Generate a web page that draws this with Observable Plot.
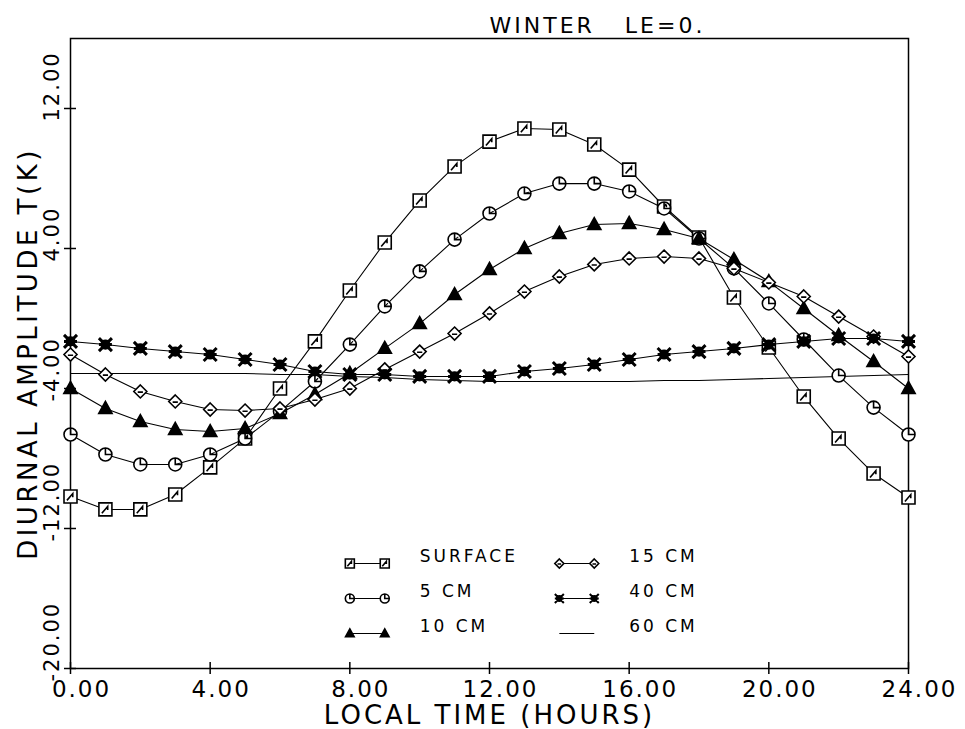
<!DOCTYPE html>
<html><head><meta charset="utf-8">
<script src="https://cdn.jsdelivr.net/npm/d3@7"></script>
<script src="https://cdn.jsdelivr.net/npm/@observablehq/plot@0.6"></script>
<style>
html,body{margin:0;padding:0;background:#fff;}
svg text{white-space:pre;}
</style></head><body><div id="chart"></div>
<script>
// ---------- data ----------
const hours = [0,1,2,3,4,5,6,7,8,9,10,11,12,13,14,15,16,17,18,19,20,21,22,23,24];
const surface = [-10.17,-10.91,-10.91,-10.06,-8.51,-6.86,-4.00,-1.31,1.60,4.34,6.74,8.69,10.11,10.86,10.80,9.94,8.51,6.40,4.63,1.20,-1.66,-4.46,-6.86,-8.86,-10.23];
const cm5 = [-6.63,-7.77,-8.34,-8.34,-7.77,-6.86,-5.31,-3.60,-1.49,0.69,2.69,4.51,6.00,7.14,7.71,7.71,7.26,6.29,4.57,2.86,0.86,-1.20,-3.26,-5.09,-6.63];
const cm10 = [-4.00,-5.14,-5.89,-6.34,-6.46,-6.29,-5.43,-4.34,-3.14,-1.71,-0.29,1.37,2.80,4.00,4.86,5.37,5.43,5.09,4.57,3.37,2.11,0.57,-0.97,-2.46,-4.00];
const cm15 = [-2.06,-3.20,-4.17,-4.74,-5.20,-5.26,-5.14,-4.63,-4.00,-2.91,-1.89,-0.86,0.29,1.54,2.40,3.09,3.43,3.54,3.43,2.86,2.06,1.26,0.11,-1.03,-2.17];
const cm40 = [-1.31,-1.49,-1.71,-1.89,-2.06,-2.34,-2.63,-3.03,-3.20,-3.20,-3.31,-3.31,-3.31,-3.03,-2.86,-2.63,-2.34,-2.06,-1.89,-1.71,-1.49,-1.31,-1.14,-1.14,-1.31];
const cm60 = [-3.14,-3.14,-3.14,-3.14,-3.14,-3.14,-3.20,-3.20,-3.31,-3.37,-3.49,-3.54,-3.60,-3.60,-3.60,-3.60,-3.60,-3.54,-3.54,-3.49,-3.43,-3.37,-3.31,-3.26,-3.20];
const seriesNames = ["SURFACE","5 CM","10 CM","15 CM","40 CM","60 CM"];
const xTicks = [0,4,8,12,16,20,24];
const yTicks = [12,4,-4,-12,-20];
const titleText = "WINTER   LE=0.";
const xLabel = "LOCAL TIME (HOURS)";
const yLabel = "DIURNAL AMPLITUDE T(K)";

// ---------- layout / style ----------
const W = 965, H = 729;
const M = {left:70, right:57, top:38, bottom:61};
const plotW = W - M.left - M.right, plotH = H - M.top - M.bottom;
const FONT = "DejaVu Sans";

const rOf = s => Math.sqrt(s/Math.PI);
const symSquare = {draw(c,s){const r=rOf(s);c.moveTo(-r,-r);c.lineTo(r,-r);c.lineTo(r,r);c.lineTo(-r,r);c.closePath();c.moveTo(-r*0.55,r*0.6);c.lineTo(r*0.35,-r*0.45);c.lineTo(r*0.35,0.1*r);}};
const symCircle = {draw(c,s){const r=rOf(s);c.moveTo(r,0);c.arc(0,0,r,0,2*Math.PI);c.moveTo(0,-r);c.lineTo(0,0);c.lineTo(r,0);}};
const symTriangle = {draw(c,s){const r=rOf(s);c.moveTo(0,-r);c.lineTo(r*0.95,r*0.7);c.lineTo(-r*0.95,r*0.7);c.closePath();}};
const symDiamond = {draw(c,s){const r=rOf(s);c.moveTo(0,-r);c.lineTo(r,0);c.lineTo(0,r);c.lineTo(-r,0);c.closePath();c.moveTo(-r*0.4,r*0.1);c.lineTo(r*0.4,r*0.1);}};
const symStar = {draw(c,s){const r=rOf(s);c.moveTo(-r,-r);c.lineTo(r,r);c.moveTo(-r,r);c.lineTo(r,-r);c.moveTo(-r,0);c.lineTo(r,0);c.moveTo(r*0.55,0);c.arc(0,0,r*0.55,0,2*Math.PI);}};

const styles = {
  "SURFACE": {symbol: symSquare, fill: "white", strokeWidth: 1.6, r: 6.5},
  "5 CM":    {symbol: symCircle, fill: "white", strokeWidth: 1.6, r: 6.5},
  "10 CM":   {symbol: symTriangle, fill: "black", strokeWidth: 1.6, r: 7},
  "15 CM":   {symbol: symDiamond, fill: "white", strokeWidth: 1.6, r: 6.5},
  "40 CM":   {symbol: symStar, fill: "black", strokeWidth: 3, r: 6.5},
  "60 CM":   null
};
const legendLayout = {rowY: [-14,-16,-18], markerX: [[8,9],[14,15]], textX: [10,16]};

// ---------- build tables ----------
const seriesValues = [surface, cm5, cm10, cm15, cm40, cm60];
const table = [];
seriesNames.forEach((name,i) => hours.forEach((h,j) => table.push({series:name, hour:h, value:seriesValues[i][j]})));
const legendRows = seriesNames.map((name,i) => ({name, col: i<3?0:1, row: i%3}));
const legendDots = [];
legendRows.forEach(d => { if (styles[d.name]) legendLayout.markerX[d.col].forEach(x => legendDots.push({...d, x})); });

const marks = [
  Plot.frame({stroke:"black", strokeWidth:1.5}),
  Plot.ruleY(yTicks, {y:d=>d, insetLeft:-6, insetRight:plotW-6, stroke:"black", strokeWidth:1.5}),
  Plot.ruleX(xTicks, {x:d=>d, insetTop:plotH-6, insetBottom:-6, stroke:"black", strokeWidth:1.5}),
  Plot.line(table, {x:"hour", y:"value", z:"series", stroke:"black", strokeWidth:1.1}),
];
seriesNames.forEach(name => {
  const st = styles[name];
  if (!st) return;
  marks.push(Plot.dot(table.filter(d=>d.series===name), {x:"hour", y:"value", r:st.r, symbol:st.symbol, fill:st.fill, stroke:"black", strokeWidth:st.strokeWidth}));
});
// legend
marks.push(Plot.link(legendRows, {x1:d=>legendLayout.markerX[d.col][0], x2:d=>legendLayout.markerX[d.col][1], y1:d=>legendLayout.rowY[d.row], y2:d=>legendLayout.rowY[d.row], stroke:"black", strokeWidth:1.2}));
seriesNames.forEach(name => {
  const st = styles[name];
  if (!st) return;
  marks.push(Plot.dot(legendDots.filter(d=>d.name===name), {x:"x", y:d=>legendLayout.rowY[d.row], r:4.5, symbol:st.symbol, fill:st.fill, stroke:"black", strokeWidth:Math.min(st.strokeWidth,2)}));
});
const textMarks = [];
textMarks.push(Plot.text(legendRows, {x:d=>legendLayout.textX[d.col], y:d=>legendLayout.rowY[d.row], text:"name", textAnchor:"start", dy:-7, fontSize:17, fontFamily:FONT, fill:"black", className:"ls3"}));
// tick labels
textMarks.push(Plot.text(xTicks, {x:d=>d, frameAnchor:"bottom", text:d=>d.toFixed(2), textAnchor:"middle", dx:11, dy:28, lineAnchor:"bottom", fontSize:23, fontFamily:FONT, fill:"black", className:"ls2"}));
textMarks.push(Plot.text(yTicks, {y:d=>d, frameAnchor:"left", text:d=>d.toFixed(2), rotate:-90, textAnchor:"start", lineAnchor:"bottom", dx:-12, dy:13, fontSize:21, fontFamily:FONT, fill:"black", className:"ls2"}));
// titles
textMarks.push(Plot.text([titleText], {frameAnchor:"top", textAnchor:"middle", dx:108, dy:-6, lineAnchor:"bottom", fontSize:22, fontFamily:FONT, fill:"black", className:"ls3"}));
textMarks.push(Plot.text([xLabel], {frameAnchor:"bottom", textAnchor:"middle", dy:55, lineAnchor:"bottom", fontSize:26, fontFamily:FONT, fill:"black", className:"ls3"}));
textMarks.push(Plot.text([yLabel], {frameAnchor:"left", textAnchor:"middle", rotate:-90, dx:-34, lineAnchor:"bottom", fontSize:26, fontFamily:FONT, fill:"black", className:"ls35"}));

const chart = Plot.plot({
  width: W, height: H,
  marginLeft: M.left, marginRight: M.right, marginTop: M.top, marginBottom: M.bottom,
  x: {domain:[0,24], axis:null},
  y: {domain:[-20,16], axis:null},
  style: {fontFamily: FONT, background: "white", color: "black"},
  marks: [...marks, ...textMarks]
});
d3.select(chart).selectAll(".ls2 text").style("letter-spacing", "2px");
d3.select(chart).selectAll(".ls3 text").style("letter-spacing", "3px");
d3.select(chart).selectAll(".ls35 text").style("letter-spacing", "3.5px");
document.getElementById("chart").appendChild(chart);
</script></body></html>
